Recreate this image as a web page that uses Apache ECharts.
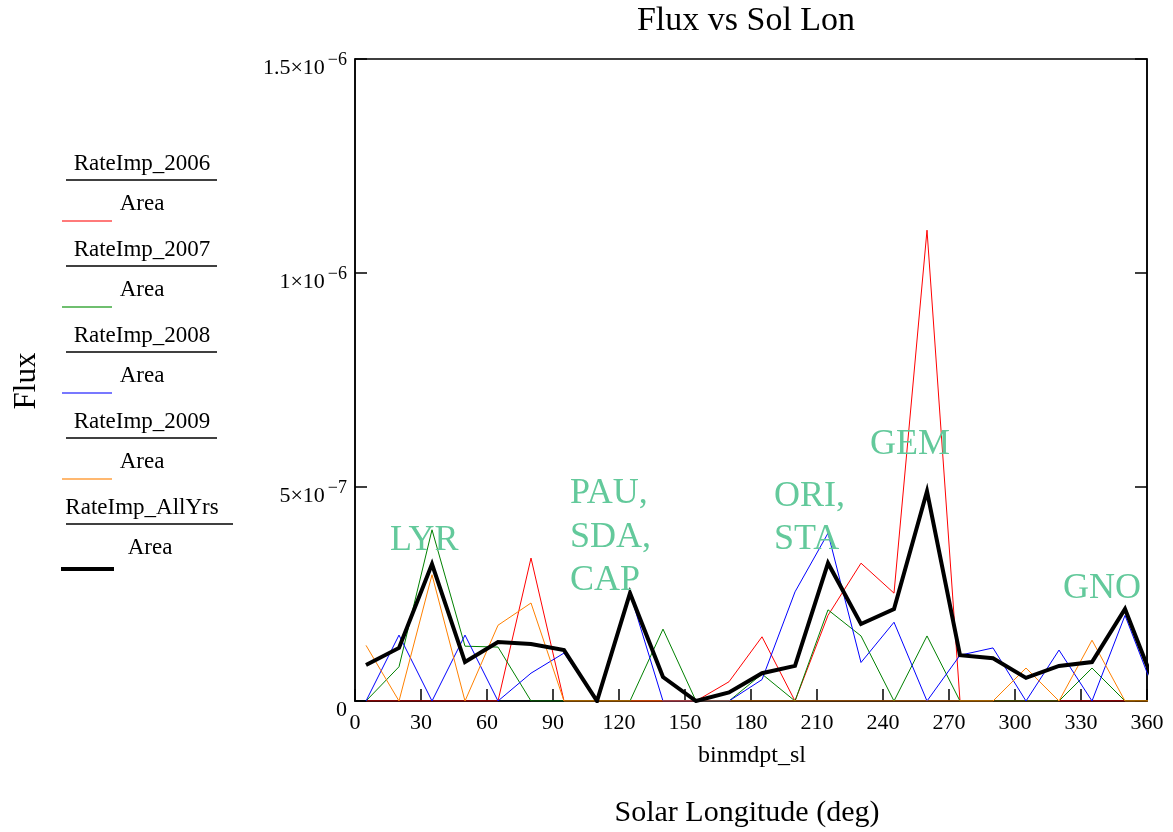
<!DOCTYPE html>
<html>
<head>
<meta charset="utf-8">
<script src="https://cdn.jsdelivr.net/npm/echarts@6/dist/echarts.min.js"></script>
<style>
html,body{margin:0;padding:0;background:#fff;}
#c{width:1173px;height:832px;}
</style>
</head>
<body>
<div id="c"></div>
<script>
// ---- data ----
const binCentres = [5,20,35,50,65,80,95,110,125,140,155,170,185,200,215,230,245,260,275,290,305,320,335,350,365];
const rate2006 = [0,0,0,0,0,3.34e-7,0,0,0,0,0,0.45e-7,1.5e-7,0,2.0e-7,3.22e-7,2.52e-7,11.0e-7,0,0,0,0,0,0,0];
const rate2007 = [0,0.8e-7,4.0e-7,1.28e-7,1.26e-7,0,0,0,0,1.68e-7,0,0,0.63e-7,0,2.13e-7,1.52e-7,0,1.52e-7,0,0,0,0,0.77e-7,0,0];
const rate2008 = [0,1.54e-7,0,1.54e-7,0,0.65e-7,1.12e-7,0,2.52e-7,0,0,0,0.5e-7,2.55e-7,3.92e-7,0.9e-7,1.84e-7,0,1.07e-7,1.24e-7,0,1.19e-7,0,2.0e-7,0];
const rate2009 = [1.3e-7,0,2.95e-7,0,1.77e-7,2.29e-7,0,0,0,0,0,0,0,0,0,0,0,0,0,0,0.77e-7,0,1.42e-7,0,0];
const rateAll  = [0.84e-7,1.24e-7,3.2e-7,0.91e-7,1.38e-7,1.33e-7,1.19e-7,0,2.52e-7,0.56e-7,0,0.2e-7,0.65e-7,0.82e-7,3.22e-7,1.8e-7,2.15e-7,4.9e-7,1.07e-7,1.0e-7,0.54e-7,0.82e-7,0.91e-7,2.15e-7,0.18e-7];
const yTickBase = ['0','5×10','1×10','1.5×10'];
const yTickExp  = ['','−7','−6','−6'];
const legendNames = ['RateImp_2006','RateImp_2007','RateImp_2008','RateImp_2009','RateImp_AllYrs'];
const showerLabels = [
  {lines:['LYR'], x:390},
  {lines:['PAU,','SDA,','CAP'], x:570},
  {lines:['ORI,','STA'], x:774},
  {lines:['GEM'], x:870},
  {lines:['GNO'], x:1063}
];
const showerBaselines = [[552],[505,549,592],[508,551],[456],[600]];

const serif = "'Liberation Serif','Times New Roman',serif";
const seriesDefs = [
  {name:legendNames[0], data:rate2006, color:'#ff0000', width:1, legendColor:'#ff7a7a'},
  {name:legendNames[1], data:rate2007, color:'#008000', width:1, legendColor:'#6fbf6f'},
  {name:legendNames[2], data:rate2008, color:'#0000ff', width:1, legendColor:'#7878ff'},
  {name:legendNames[3], data:rate2009, color:'#ff8000', width:1, legendColor:'#ffb870'},
  {name:legendNames[4], data:rateAll,  color:'#000000', width:4, legendColor:'#000000'}
];

const chart = echarts.init(document.getElementById('c'), null, {renderer:'canvas'});

const graphics = [];
// title & axis titles
graphics.push({type:'text', style:{text:'Flux vs Sol Lon', x:746, y:21.5, font:'34px '+serif, fill:'#000', align:'center', verticalAlign:'middle'}});
graphics.push({type:'text', style:{text:'binmdpt_sl', x:752, y:756, font:'24px '+serif, fill:'#000', align:'center', verticalAlign:'middle'}});
graphics.push({type:'text', style:{text:'Solar Longitude (deg)', x:747, y:813, font:'30px '+serif, fill:'#000', align:'center', verticalAlign:'middle'}});
graphics.push({type:'text', x:27, y:381, rotation:Math.PI/2, style:{text:'Flux', x:0, y:0, font:'31px '+serif, fill:'#000', align:'center', verticalAlign:'middle'}});

// legend (drawn as text + lines)
seriesDefs.forEach((s, i) => {
  const y0 = 164 + i*86;
  const last = i === seriesDefs.length-1;
  graphics.push({type:'text', style:{text:s.name, x:142, y:y0, font:'23px '+serif, fill:'#000', align:'center', verticalAlign:'middle'}});
  graphics.push({type:'line', shape:{x1:66, y1:y0+16, x2: last?233:217, y2:y0+16}, style:{stroke:'#000', lineWidth:1.5}});
  graphics.push({type:'text', style:{text:'Area', x: last?150:142, y:y0+40, font:'23px '+serif, fill:'#000', align:'center', verticalAlign:'middle'}});
  graphics.push({type:'line', shape:{x1: last?61:62, y1:y0+(last?61:57), x2: last?114:112, y2:y0+(last?61:57)}, style:{stroke:s.legendColor, lineWidth: last?4:2}});
});

// shower annotations
showerLabels.forEach((lab, k) => {
  lab.lines.forEach((t, j) => {
    graphics.push({type:'text', style:{text:t, x:lab.x, y:showerBaselines[k][j]-11, font:'36px '+serif, fill:'#63c99b', align:'left', verticalAlign:'middle'}, z:100});
  });
});

const axisLineStyle = {color:'#000', width:1.5};
chart.setOption({
  animation:false,
  backgroundColor:'#fff',
  grid:{left:355, right:26, top:59, bottom:131, show:true, borderColor:'#000', borderWidth:1.5, backgroundColor:'transparent'},
  xAxis:[{
    type:'value', min:0, max:360, interval:30, position:'bottom',
    axisLine:{show:true, onZero:false, lineStyle:axisLineStyle},
    axisTick:{show:true, inside:true, length:12, lineStyle:axisLineStyle},
    axisLabel:{show:true, fontSize:22, fontFamily:serif, color:'#000', margin:11, showMinLabel:true, showMaxLabel:true},
    splitLine:{show:false}
  }],
  yAxis:[{
    type:'value', min:0, max:1.5e-6, interval:5e-7, position:'left',
    axisLine:{show:true, onZero:false, lineStyle:axisLineStyle},
    axisTick:{show:true, inside:true, length:12, lineStyle:axisLineStyle},
    axisLabel:{
      show:true, margin:8, padding:[12,0,0,0],
      formatter:(v, idx) => {
        const b = '{b|' + yTickBase[idx] + '}';
        return yTickExp[idx] ? b + '{s|' + yTickExp[idx] + '}' : b;
      },
      rich:{
        b:{fontSize:22, fontFamily:serif, color:'#000', lineHeight:28, verticalAlign:'bottom'},
        s:{fontSize:18, fontFamily:serif, color:'#000', lineHeight:2, verticalAlign:'top', padding:[0,0,0,3]}
      }
    },
    splitLine:{show:false}
  },{
    type:'value', min:0, max:1.5e-6, interval:5e-7, position:'right',
    axisLine:{show:true, onZero:false, lineStyle:axisLineStyle},
    axisTick:{show:true, inside:true, length:12, lineStyle:axisLineStyle},
    axisLabel:{show:false},
    splitLine:{show:false}
  }],
  series: seriesDefs.map((s) => ({
    name:s.name, type:'line', xAxisIndex:0, yAxisIndex:0,
    data: binCentres.map((x, i) => [x, s.data[i]]),
    showSymbol:false, symbol:'none', clip:true, smooth:false,
    lineStyle:{color:s.color, width:s.width, join:'miter'},
    itemStyle:{color:s.color},
    emphasis:{disabled:true}, silent:true
  })),
  graphic: graphics
});
</script>
</body>
</html>
